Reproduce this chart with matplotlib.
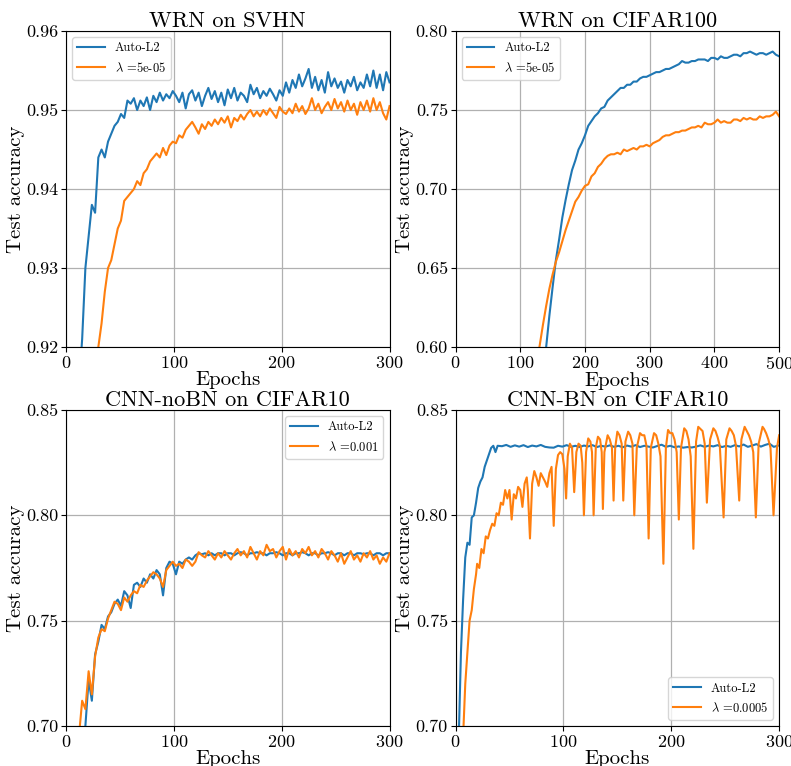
import numpy as np
import matplotlib
matplotlib.use("Agg")
import matplotlib.pyplot as plt

plt.rcParams["font.family"] = "serif"
plt.rcParams["font.serif"] = ["cmr10", "DejaVu Serif"]
plt.rcParams["mathtext.fontset"] = "cm"
plt.rcParams["axes.formatter.use_mathtext"] = True
plt.rcParams["axes.unicode_minus"] = False

# WRN on SVHN (every 3 epochs)
svhn_auto = [0.915, 0.921, 0.930, 0.934, 0.938, 0.937, 0.944, 0.945, 0.944, 0.946,
             0.947, 0.948, 0.9485, 0.9495, 0.9490, 0.9512, 0.9508, 0.9515, 0.9500, 0.9512,
             0.9505, 0.9516, 0.9500, 0.9518, 0.9510, 0.9522, 0.9512, 0.9520, 0.9515, 0.9524,
             0.9518, 0.9510, 0.9522, 0.9502, 0.9520, 0.9525, 0.9512, 0.9522, 0.9505, 0.9518,
             0.9528, 0.9514, 0.9524, 0.9510, 0.9522, 0.9506, 0.9526, 0.9515, 0.9528, 0.9512,
             0.9522, 0.9518, 0.9510, 0.9532, 0.9520, 0.9528, 0.9515, 0.9524, 0.9518, 0.9527,
             0.9520, 0.9512, 0.9525, 0.9518, 0.9535, 0.9522, 0.9538, 0.9528, 0.9545, 0.9530,
             0.9540, 0.9552, 0.9528, 0.9542, 0.9525, 0.9538, 0.9522, 0.9548, 0.9530, 0.9540,
             0.9528, 0.9536, 0.9522, 0.9538, 0.9530, 0.9542, 0.9525, 0.9535, 0.9528, 0.9545,
             0.9530, 0.9550, 0.9528, 0.9545, 0.9525, 0.9548, 0.9535]
svhn_fixed = [0.917, 0.920, 0.923, 0.927, 0.930, 0.931, 0.933, 0.935, 0.936, 0.9385,
              0.9390, 0.9395, 0.9400, 0.9410, 0.9405, 0.9420, 0.9425, 0.9435, 0.9440, 0.9445,
              0.9440, 0.9452, 0.9443, 0.9455, 0.9460, 0.9458, 0.9468, 0.9465, 0.9475, 0.9480,
              0.9485, 0.9478, 0.9470, 0.9482, 0.9476, 0.9485, 0.9480, 0.9488, 0.9482, 0.9490,
              0.9484, 0.9492, 0.9478, 0.9490, 0.9486, 0.9494, 0.9488, 0.9495, 0.9500, 0.9492,
              0.9498, 0.9492, 0.9500, 0.9494, 0.9502, 0.9496, 0.9490, 0.9504, 0.9498, 0.9495,
              0.9502, 0.9496, 0.9508, 0.9498, 0.9505, 0.9495, 0.9502, 0.9515, 0.9500, 0.9508,
              0.9496, 0.9504, 0.9510, 0.9500, 0.9514, 0.9502, 0.9510, 0.9498, 0.9512, 0.9500,
              0.9508, 0.9494, 0.9510, 0.9500, 0.9512, 0.9498, 0.9515, 0.9500, 0.9510, 0.9496,
              0.9488, 0.9505]

# WRN on CIFAR100 (every 5 epochs)
c100_auto = [0.590, 0.600, 0.620, 0.638, 0.655, 0.668, 0.682, 0.693, 0.703, 0.712,
             0.718, 0.725, 0.729, 0.734, 0.740, 0.743, 0.746, 0.748, 0.751, 0.752,
             0.756, 0.758, 0.760, 0.762, 0.764, 0.764, 0.766, 0.766, 0.768, 0.768,
             0.770, 0.771, 0.771, 0.772, 0.773, 0.774, 0.774, 0.775, 0.776, 0.776,
             0.777, 0.778, 0.779, 0.781, 0.780, 0.780, 0.781, 0.781, 0.782, 0.782,
             0.782, 0.781, 0.783, 0.783, 0.782, 0.784, 0.783, 0.783, 0.784, 0.785,
             0.785, 0.784, 0.786, 0.786, 0.787, 0.786, 0.785, 0.786, 0.786, 0.785,
             0.786, 0.787, 0.785, 0.784]
c100_fixed = [0.590, 0.601, 0.614, 0.626, 0.637, 0.646, 0.654, 0.660, 0.667, 0.674,
              0.680, 0.686, 0.692, 0.695, 0.699, 0.702, 0.703, 0.708, 0.710, 0.714,
              0.716, 0.719, 0.721, 0.722, 0.722, 0.723, 0.722, 0.725, 0.724, 0.725,
              0.726, 0.725, 0.727, 0.727, 0.728, 0.727, 0.729, 0.730, 0.731, 0.733,
              0.734, 0.734, 0.735, 0.736, 0.736, 0.737, 0.737, 0.738, 0.739, 0.739,
              0.740, 0.739, 0.742, 0.741, 0.741, 0.742, 0.744, 0.742, 0.743, 0.742,
              0.742, 0.744, 0.744, 0.743, 0.745, 0.744, 0.745, 0.744, 0.744, 0.746,
              0.745, 0.746, 0.746, 0.747, 0.749, 0.746]

# CNN-noBN on CIFAR10 (every 3 epochs)
nobn_auto = [0.690, 0.695, 0.700, 0.722, 0.712, 0.734, 0.740, 0.748, 0.746, 0.752,
             0.754, 0.758, 0.760, 0.757, 0.764, 0.762, 0.756, 0.767, 0.768, 0.766,
             0.770, 0.768, 0.772, 0.770, 0.774, 0.772, 0.762, 0.775, 0.778, 0.777,
             0.772, 0.778, 0.777, 0.779, 0.780, 0.779, 0.781, 0.782, 0.7815, 0.782,
             0.781, 0.782, 0.781, 0.782, 0.782, 0.781, 0.782, 0.782, 0.781, 0.782,
             0.7825, 0.782, 0.781, 0.782, 0.782, 0.7825, 0.782, 0.782, 0.781, 0.782,
             0.782, 0.7825, 0.782, 0.781, 0.782, 0.782, 0.781, 0.782, 0.782, 0.7825,
             0.782, 0.781, 0.782, 0.782, 0.781, 0.782, 0.782, 0.7825, 0.782, 0.781,
             0.782, 0.782, 0.781, 0.782, 0.782, 0.781, 0.782, 0.782, 0.7815, 0.782,
             0.782, 0.781, 0.782, 0.782, 0.781, 0.782, 0.782]
nobn_fixed = [0.695, 0.712, 0.708, 0.726, 0.715, 0.733, 0.742, 0.746, 0.745, 0.751,
              0.755, 0.759, 0.758, 0.755, 0.761, 0.759, 0.762, 0.764, 0.763, 0.767,
              0.766, 0.769, 0.771, 0.773, 0.772, 0.770, 0.766, 0.774, 0.776, 0.778,
              0.776, 0.777, 0.775, 0.779, 0.778, 0.776, 0.778, 0.7825, 0.781, 0.780,
              0.783, 0.781, 0.779, 0.782, 0.780, 0.783, 0.781, 0.779, 0.782, 0.784,
              0.781, 0.783, 0.780, 0.785, 0.782, 0.779, 0.783, 0.781, 0.786, 0.783,
              0.784, 0.780, 0.783, 0.785, 0.779, 0.784, 0.781, 0.783, 0.780, 0.784,
              0.782, 0.785, 0.781, 0.783, 0.780, 0.784, 0.782, 0.779, 0.783, 0.781,
              0.778, 0.782, 0.777, 0.780, 0.783, 0.779, 0.781, 0.778, 0.782, 0.780,
              0.783, 0.779, 0.781, 0.777, 0.780, 0.778, 0.782]

# CNN-BN on CIFAR10
bn_auto_ep = [3, 5, 7, 9, 11, 13, 15, 17, 19, 21, 23, 25, 27, 29, 31, 33, 35, 37, 39,
              43, 47, 51, 55, 59, 63, 67, 71, 75, 79, 83, 87, 91, 95, 99, 103, 107, 111,
              115, 119, 123, 127, 131, 135, 139, 143, 147, 151, 155, 159, 163, 167, 171,
              175, 179, 183, 187, 191, 195, 199, 203, 207, 211, 215, 219, 223, 227, 231,
              235, 239, 243, 247, 251, 255, 259, 263, 267, 271, 275, 279, 283, 287, 291,
              295, 300]
bn_auto = [0.695, 0.735, 0.760, 0.780, 0.787, 0.786, 0.799, 0.800, 0.806, 0.813,
           0.816, 0.818, 0.823, 0.826, 0.829, 0.832, 0.833, 0.830, 0.833,
           0.8328, 0.8334, 0.8325, 0.8332, 0.8326, 0.8333, 0.8324, 0.8331, 0.8327, 0.8334,
           0.8325, 0.8322, 0.8321, 0.8330, 0.8326, 0.8333, 0.8325, 0.8330, 0.8324, 0.8331,
           0.8327, 0.8333, 0.8324, 0.8330, 0.8326, 0.8332, 0.8325, 0.8330, 0.8323, 0.8331,
           0.8326, 0.8333, 0.8324, 0.8330, 0.8326, 0.8322, 0.8329, 0.8335, 0.8325, 0.8330,
           0.8323, 0.8327, 0.8321, 0.8324, 0.8322, 0.8326, 0.8332, 0.8325, 0.8331, 0.8327,
           0.8333, 0.8324, 0.8330, 0.8325, 0.8333, 0.8327, 0.8336, 0.8325, 0.8331, 0.8338,
           0.8326, 0.8334, 0.8340, 0.8325, 0.8332]
bn_fixed_ep = [7, 9, 11, 13, 15, 17, 19, 20, 22, 24, 26, 28, 30, 32, 34, 36, 38, 40, 42,
               44, 46, 48, 50, 52, 54, 56, 58, 60, 62, 64, 66, 67, 69, 71, 73, 75, 77, 79,
               81, 83, 85, 87, 89, 91, 93, 95, 97, 99, 101, 102.5, 104, 106, 108, 110, 112,
               114, 116, 117.5, 119, 121, 123, 125, 126.5, 128, 130, 132, 134, 135.5, 136.6,
               138, 141, 143, 145, 146.5, 148, 150, 152, 154, 155.5, 157.5, 160, 162, 164,
               165.7, 168, 171, 173, 175, 177, 179, 181, 184, 186, 188, 190, 192.7, 195,
               197, 199, 201, 203, 205, 207, 209, 212, 214, 216, 218, 220.5, 223, 225, 227,
               229, 231, 233, 236, 239, 241, 243, 245, 248.5, 251, 254, 256, 258, 260, 263,
               265, 268, 270, 272, 274, 276, 278.4, 281, 284.6, 286, 288, 290, 292, 294.8,
               296, 298, 300]
bn_fixed = [0.695, 0.720, 0.735, 0.750, 0.755, 0.765, 0.772, 0.777, 0.775, 0.784,
            0.782, 0.790, 0.789, 0.793, 0.796, 0.795, 0.801, 0.800, 0.806, 0.805,
            0.812, 0.808, 0.812, 0.798, 0.810, 0.808, 0.8135, 0.812, 0.804, 0.815,
            0.818, 0.812, 0.789, 0.815, 0.821, 0.818, 0.814, 0.820, 0.818, 0.816,
            0.8135, 0.820, 0.823, 0.795, 0.822, 0.8286, 0.830, 0.829, 0.822, 0.808,
            0.828, 0.834, 0.832, 0.811, 0.830, 0.834, 0.833, 0.825, 0.800, 0.830,
            0.8365, 0.835, 0.830, 0.800, 0.832, 0.8373, 0.836, 0.830, 0.803,
            0.830, 0.838, 0.836, 0.832, 0.807, 0.832, 0.8397, 0.838, 0.834, 0.807,
            0.835, 0.8397, 0.838, 0.834, 0.800, 0.832, 0.839, 0.838, 0.838, 0.833,
            0.789, 0.832, 0.839, 0.838, 0.834, 0.828, 0.777, 0.832, 0.8405, 0.839,
            0.839, 0.836, 0.830, 0.798, 0.832, 0.8413, 0.840, 0.836, 0.828, 0.7841,
            0.835, 0.842, 0.841, 0.840, 0.834, 0.806, 0.836, 0.8413, 0.840, 0.837,
            0.833, 0.799, 0.836, 0.8413, 0.840, 0.838, 0.833, 0.807, 0.836, 0.842,
            0.840, 0.838, 0.835, 0.830, 0.799, 0.834, 0.842, 0.841, 0.8389, 0.836,
            0.832, 0.800, 0.812, 0.832, 0.838]

blue = "#1f77b4"
orange = "#ff7f0e"

panels = [
    ("WRN on SVHN", 12 + 3 * np.arange(len(svhn_auto)), svhn_auto,
     27 + 3 * np.arange(len(svhn_fixed)), svhn_fixed, r"$\lambda$ =5e-05",
     (0, 300), (0.92, 0.96), [0.92, 0.93, 0.94, 0.95, 0.96], "upper left"),
    ("WRN on CIFAR100", 135 + 5 * np.arange(len(c100_auto)), c100_auto,
     125 + 5 * np.arange(len(c100_fixed)), c100_fixed, r"$\lambda$ =5e-05",
     (0, 500), (0.60, 0.80), [0.60, 0.65, 0.70, 0.75, 0.80], "upper left"),
    ("CNN-noBN on CIFAR10", 12 + 3 * np.arange(len(nobn_auto)), nobn_auto,
     12 + 3 * np.arange(len(nobn_fixed)), nobn_fixed, r"$\lambda$ =0.001",
     (0, 300), (0.70, 0.85), [0.70, 0.75, 0.80, 0.85], "upper right"),
    ("CNN-BN on CIFAR10", bn_auto_ep, bn_auto, bn_fixed_ep, bn_fixed,
     r"$\lambda$ =0.0005", (0, 300), (0.70, 0.85), [0.70, 0.75, 0.80, 0.85],
     "lower right"),
]

fig, axes = plt.subplots(2, 2, figsize=(7.91, 7.66), dpi=100)
fig.subplots_adjust(left=0.0834, right=0.985, bottom=0.0522, top=0.9595,
                    wspace=0.204, hspace=0.199)

for ax, (title, xa, ya, xf, yf, lab, xl, yl, yt, loc) in zip(axes.flat, panels):
    ax.plot(xa, ya, color=blue, lw=1.5, label="Auto-L2")
    ax.plot(xf, yf, color=orange, lw=1.5, label=lab)
    ax.set_xlim(*xl)
    ax.set_ylim(*yl)
    ax.set_yticks(yt)
    ax.set_yticklabels(["%.2f" % v for v in yt])
    ax.tick_params(labelsize=13, pad=2)
    ax.grid(True, color="#b0b0b0", lw=0.9)
    ax.set_title(title, fontsize=16, pad=3)
    ax.set_xlabel("Epochs", fontsize=15, labelpad=0)
    ax.set_ylabel("Test accuracy", fontsize=15, labelpad=1)
    ax.legend(loc=loc, fontsize=9, handlelength=2.2)

plt.savefig("out.png", dpi=100)
